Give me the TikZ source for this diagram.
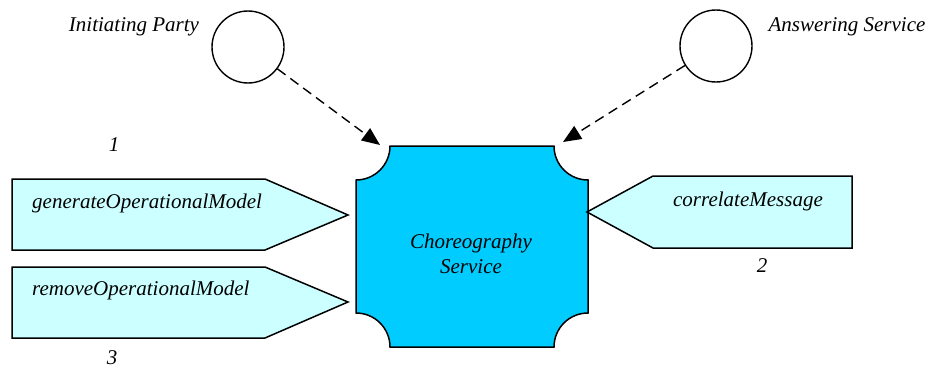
\documentclass[tikz,border=0pt]{standalone}
\usepackage{fontspec}
\setmainfont{Liberation Serif}
\usetikzlibrary{arrows.meta}
\definecolor{chorfill}{HTML}{00CCFF}
\definecolor{opfill}{HTML}{CCFFFF}
\begin{document}
\begin{tikzpicture}[x=1pt,y=-1pt,
  every node/.style={font=\fontsize{21}{25}\selectfont\itshape, inner sep=0pt},
  party/.style={circle, draw, line width=1.4pt, minimum size=72pt, inner sep=0pt},
  outline/.style={draw=black, line width=1.5pt, line join=miter},
  flow/.style={draw, line width=1.4pt, dash pattern=on 10pt off 6pt,
    -{Triangle[length=18pt,width=15pt]}},
  lbl/.style={anchor=center}]
\useasboundingbox (0,0) rectangle (929,369);

% parties
\node[party] (ip) at (248,47) {};
\node[party] (as) at (716,46) {};
\node[lbl] (iplbl) at (134,27) {Initiating Party};
\node[lbl] (aslbl) at (847,27) {Answering Service};

% choreography service box with concave corners
\path[outline, fill=chorfill]
  (390,146) -- (554,146) arc[start angle=180, end angle=90, radius=34]
  -- (588,313) arc[start angle=270, end angle=180, radius=34]
  -- (390,347) arc[start angle=0, end angle=-90, radius=34]
  -- (356,180) arc[start angle=90, end angle=0, radius=34] -- cycle;
\node[align=center] (chor) at (471,254) {Choreography\\Service};

% operation pentagons
\path[outline, fill=opfill] (12,179) -- (265,179) -- (348,215) -- (265,250) -- (12,250) -- cycle;
\path[outline, fill=opfill] (12,267) -- (265,267) -- (348,302) -- (265,338) -- (12,338) -- cycle;
\path[outline, fill=opfill] (852,176) -- (653,176) -- (587,212) -- (653,248) -- (852,248) -- cycle;
\node[anchor=west] (gen) at (32,203) {generateOperationalModel};
\node[anchor=west] (rem) at (32,290) {removeOperationalModel};
\node[lbl] (cor) at (748,201) {correlateMessage};

% sequence numbers
\node[lbl] (n1) at (114,145) {1};
\node[lbl] (n2) at (762,266) {2};
\node[lbl] (n3) at (112,358) {3};

% interactions
\coordinate (tipL) at (380,145);
\coordinate (tipR) at (563,142);
\draw[flow] (ip) -- (tipL);
\draw[flow] (as) -- (tipR);
\end{tikzpicture}
\end{document}
